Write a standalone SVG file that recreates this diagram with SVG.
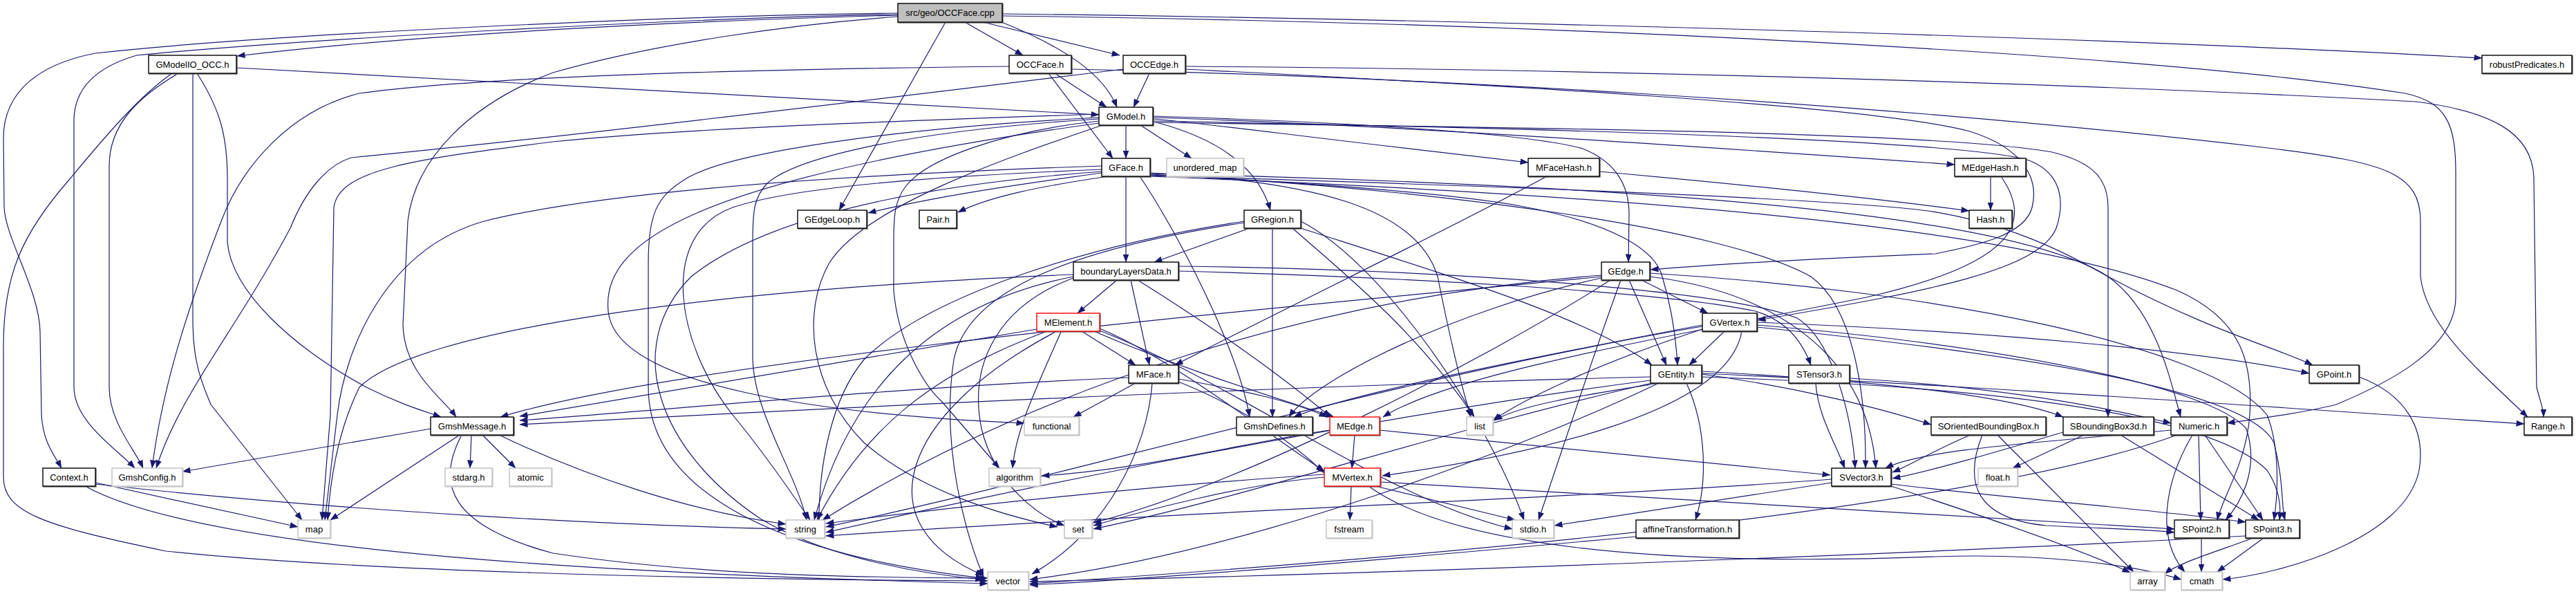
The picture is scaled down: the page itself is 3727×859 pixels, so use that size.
<svg xmlns="http://www.w3.org/2000/svg" width="3727" height="859" viewBox="0 0 3727 859">
<defs>
<marker id="a" viewBox="0 0 12 9" markerWidth="12" markerHeight="9" refX="11.5" refY="4.5" orient="auto" markerUnits="userSpaceOnUse"><path d="M0,0 L12,4.5 L0,9 z" fill="#191970"/></marker>
</defs>
<style>
.n rect{fill:#fff;stroke:#000;stroke-width:1.4;filter:drop-shadow(1.5px 1.5px 0 #666)}
.g rect{fill:#fff;stroke:#bfbfbf;stroke-width:1.4;filter:drop-shadow(1.5px 1.5px 0 #d0d0d0)}
.r rect{fill:#fff;stroke:#ff0000;stroke-width:1.4;filter:drop-shadow(1.5px 1.5px 0 #666)}
.root rect{fill:#bfbfbf;stroke:#000;stroke-width:1.4;filter:drop-shadow(1.5px 1.5px 0 #666)}
text{font-family:"Liberation Sans",Arial,sans-serif;font-size:13px;fill:#000;text-anchor:middle}
#edges path{fill:none;stroke:#191970;stroke-width:1.2;marker-end:url(#a)}
</style>
<rect width="3727" height="859" fill="#fff"/>
<g id="edges">
<path d="M1299,22 C1000,30 620,48 343,81"/>
<path d="M1396,32 L1480,80"/>
<path d="M1422,32 L1620,80"/>
<path d="M1449,32 C1545,70 1598,110 1616,155"/>
<path d="M1450,20 C2100,28 3000,52 3591,84"/>
<path d="M1450,23 C2200,32 3100,75 3480,135 C3540,148 3553,180 3553,250 L3553,430 C3553,510 3440,560 3380,585 C3320,600 3260,606 3222,612"/>
<path d="M1368,32 L1214,304"/>
<path d="M1299,19 C1000,22 400,48 138,77 C60,92 5,130 5,200 L6,300 C8,345 57,420 58,480 L60,600 C62,640 80,660 89,677"/>
<path d="M1299,21 C1000,25 420,58 198,80 C135,98 107,130 107,175 L107,560 C107,610 170,650 195,677"/>
<path d="M1299,24 C1150,35 950,62 800,105 C680,150 600,230 590,320 L583,470 C585,540 640,575 660,603"/>
<path d="M342,98 L1590,166"/>
<path d="M258,106 C200,140 158,180 158,240 L158,560 C158,610 195,650 207,677"/>
<path d="M285,106 C320,160 329,200 329,260 L329,350 C335,420 420,500 530,560 C580,585 615,595 638,603"/>
<path d="M279,106 L279,470 C280,530 295,560 305,585 L437,752"/>
<path d="M249,106 C200,140 150,200 100,260 C30,340 5,400 5,500 L5,690 C5,740 60,760 240,797 C500,825 1000,838 1429,840"/>
<path d="M1526,106 L1601,155"/>
<path d="M1517,106 L1610,229"/>
<path d="M1460,96 C1100,100 700,110 520,135 C420,160 350,240 320,320 C270,450 235,560 220,677"/>
<path d="M1550,100 C2000,110 2700,145 3290,215 C3450,235 3502,250 3502,320 L3502,400 C3510,470 3580,530 3657,603"/>
<path d="M1663,106 L1640,155"/>
<path d="M1625,100 C1300,140 800,200 508,228 C470,240 440,280 420,330 C340,480 260,570 226,677"/>
<path d="M1715,100 C2100,120 2700,150 2850,190 C2930,215 2950,260 2940,300 C2930,340 2860,355 2800,367 C2600,375 2450,385 2388,390"/>
<path d="M1715,96 C2300,100 3000,120 3495,147 C3600,160 3666,190 3666,260 L3670,560 C3675,580 3680,590 3680,603"/>
<path d="M1629,181 L1629,229"/>
<path d="M1650,181 L1724,229"/>
<path d="M1668,172 C1760,180 1860,195 2211,235"/>
<path d="M1668,170 C2000,180 2500,215 2828,238"/>
<path d="M1673,177 C1760,200 1820,240 1838,304"/>
<path d="M1668,168 C1900,175 2200,190 2290,215 C2340,235 2357,270 2357,310 L2356,379"/>
<path d="M1668,175 C2200,185 2800,200 2930,230 C2990,250 2985,300 2975,330 C2950,390 2800,420 2543,463"/>
<path d="M1668,177 C2200,185 2800,190 2969,220 C3030,235 3050,260 3050,300 L3050,603"/>
<path d="M1590,165 C1300,175 1000,185 800,205 C600,230 490,245 483,300 L478,600 L466,752"/>
<path d="M1590,170 C1300,185 1050,220 990,260 C950,285 938,310 938,380 L938,560 C938,700 1100,800 1423,836"/>
<path d="M1590,172 C1300,190 1150,230 1110,265 C1092,285 1089,300 1089,350 L1089,520 C1092,600 1150,680 1167,752"/>
<path d="M1590,175 C1450,190 1340,230 1310,270 C1295,290 1293,310 1293,350 L1293,420 C1300,500 1340,560 1362,580 L1446,677"/>
<path d="M1595,181 C1450,230 1250,300 1200,380 C1160,450 1170,560 1250,640 C1330,710 1450,745 1530,762"/>
<path d="M1590,178 C1000,260 870,350 880,450 C890,560 1200,600 1482,612"/>
<path d="M1594,250 C1450,270 1350,285 1256,308"/>
<path d="M1604,255 C1500,270 1430,285 1386,307"/>
<path d="M1629,255 L1629,379"/>
<path d="M1664,253 C1900,264 2100,280 2200,298 C2330,322 2395,360 2405,400 C2420,450 2425,490 2427,528"/>
<path d="M1664,254 C2200,270 2650,287 2790,305 C2900,322 2980,360 3050,400 C3200,480 3300,505 3346,528"/>
<path d="M1664,255 C2300,280 2900,322 3150,420 C3240,460 3260,520 3255,600 C3250,670 3215,720 3208,752"/>
<path d="M1664,252 C2100,274 2500,332 2620,400 C2690,450 2700,600 2699,677"/>
<path d="M1664,251 C2300,266 2900,302 3050,400 C3120,450 3140,550 3155,603"/>
<path d="M1649,255 C1700,330 1790,500 1808,603"/>
<path d="M1594,245 C1350,255 1150,270 1060,300 C950,340 980,500 1060,600 C1110,660 1150,720 1172,752"/>
<path d="M1594,248 C1300,270 1100,320 1000,400 C900,500 950,650 1100,750 C1200,810 1350,832 1423,838"/>
<path d="M1594,240 C1300,250 900,270 700,320 C560,360 500,500 488,600 L470,752"/>
<path d="M1664,250 C1900,262 2050,300 2080,400 C2100,500 2115,560 2128,603"/>
<path d="M1882,330 C2100,400 2300,460 2390,528"/>
<path d="M1808,330 L1670,379"/>
<path d="M1841,330 L1841,603"/>
<path d="M1870,330 C1950,400 2050,480 2133,603"/>
<path d="M1800,320 C1600,350 1350,420 1250,520 C1200,580 1185,680 1185,752"/>
<path d="M1800,322 C1550,360 1400,420 1380,520 C1360,650 1400,780 1423,834"/>
<path d="M1882,320 C2000,380 2150,600 2205,752"/>
<path d="M1616,405 L1559,453"/>
<path d="M1636,405 L1663,528"/>
<path d="M1646,405 C1750,470 1850,540 1925,603"/>
<path d="M1705,392 C2000,400 2400,420 2540,450 C2590,465 2610,500 2620,528"/>
<path d="M1705,385 C2100,390 2500,420 2600,460 C2650,490 2680,600 2684,677"/>
<path d="M1553,397 C1000,420 600,480 520,560 C490,620 478,690 474,752"/>
<path d="M1553,402 C1450,440 1400,520 1420,620 C1440,700 1500,745 1540,760"/>
<path d="M1553,400 C1350,440 1230,560 1178,752"/>
<path d="M1500,476 L752,602"/>
<path d="M1565,479 L1643,528"/>
<path d="M1583,479 C1700,530 1830,570 1930,603"/>
<path d="M1591,475 C1700,520 1850,640 1916,681"/>
<path d="M1515,479 C1350,540 1250,620 1182,752"/>
<path d="M1527,480 C1300,600 1250,760 1423,832"/>
<path d="M1535,480 C1500,560 1470,620 1465,677"/>
<path d="M1591,478 C1800,560 2000,720 2188,765"/>
<path d="M1633,546 C1300,560 1000,590 752,608"/>
<path d="M1643,554 L1553,603"/>
<path d="M1667,554 C1660,650 1600,770 1493,830"/>
<path d="M1705,548 C1800,565 1870,580 1920,603"/>
<path d="M1705,552 C1800,590 1870,640 1916,684"/>
<path d="M1960,629 L1956,677"/>
<path d="M1996,622 L2648,687"/>
<path d="M1924,622 C1800,640 1650,680 1507,688"/>
<path d="M1955,703 L1953,752"/>
<path d="M1990,703 L2192,752"/>
<path d="M1916,690 C1800,700 1650,740 1582,760"/>
<path d="M1997,697 C2400,720 2900,750 3146,765"/>
<path d="M1980,703 C2100,790 2400,820 2800,805 C2950,800 3080,815 3156,838"/>
<path d="M1916,686 C1700,700 1400,730 1195,757"/>
<path d="M2388,545 C1800,560 1200,590 752,614"/>
<path d="M2400,554 C2300,570 2200,585 2162,608"/>
<path d="M2388,550 C2000,600 1500,700 1195,770"/>
<path d="M2400,554 C2200,650 1800,800 1490,838"/>
<path d="M2390,554 C2100,620 1800,720 1582,765"/>
<path d="M2462,540 C2900,560 3300,590 3652,613"/>
<path d="M2462,545 C2900,560 3200,600 3280,680 C3300,710 3300,735 3298,752"/>
<path d="M2462,537 C2700,550 2900,570 2985,603"/>
<path d="M2462,541 C2600,560 2720,590 2794,614"/>
<path d="M2440,554 C2470,620 2470,700 2453,752"/>
<path d="M2495,479 L2444,528"/>
<path d="M2542,466 C2900,480 3200,510 3341,540"/>
<path d="M2542,470 C2900,500 3200,560 3250,620 C3270,680 3240,730 3220,752"/>
<path d="M2542,473 C2900,510 3250,560 3290,640 C3305,700 3300,730 3306,752"/>
<path d="M2463,470 C2200,520 1950,570 1872,603"/>
<path d="M2463,476 C2300,530 2200,580 2160,608"/>
<path d="M2463,472 C2000,550 1500,700 1195,762"/>
<path d="M2520,479 C2500,600 2200,660 2000,688"/>
<path d="M2375,405 L2471,453"/>
<path d="M2357,405 L2411,528"/>
<path d="M2317,400 C1800,450 1000,520 724,603"/>
<path d="M2317,402 C2100,450 1900,550 1865,603"/>
<path d="M2317,398 C1900,430 1500,560 1190,752"/>
<path d="M2330,405 C2150,520 1800,700 1582,756"/>
<path d="M2345,405 C2310,500 2260,650 2226,752"/>
<path d="M2387,400 C2550,420 2700,500 2714,677"/>
<path d="M2387,395 C2800,420 3200,500 3280,600 C3300,650 3295,720 3290,752"/>
<path d="M2851,629 C2800,650 2770,670 2738,683"/>
<path d="M2868,629 C2840,700 2860,750 2960,760 C3050,765 3100,765 3146,770"/>
<path d="M2890,629 L3087,827"/>
<path d="M3015,629 L2912,677"/>
<path d="M3068,629 L3268,752"/>
<path d="M2985,625 C2900,650 2800,680 2738,692"/>
<path d="M3181,629 L3184,752"/>
<path d="M3190,629 L3274,752"/>
<path d="M3172,629 C3130,700 3120,780 3161,827"/>
<path d="M3141,622 C2950,640 2780,650 2728,677"/>
<path d="M3150,629 C2900,720 2300,790 1490,844"/>
<path d="M2627,554 C2630,600 2655,640 2669,677"/>
<path d="M2676,547 C2900,560 3050,590 3141,612"/>
<path d="M2736,700 C2900,720 3100,735 3249,755"/>
<path d="M2650,698 L2249,760"/>
<path d="M2650,693 C2300,720 1700,740 1195,775"/>
<path d="M2736,703 C2850,740 3000,790 3082,828"/>
<path d="M3185,778 L3185,827"/>
<path d="M3275,778 L3208,827"/>
<path d="M3260,778 C3200,800 3150,815 3132,830"/>
<path d="M3249,775 C2800,800 2000,830 1490,841"/>
<path d="M3413,545 C3480,570 3510,620 3500,680 C3480,780 3300,830 3216,838"/>
<path d="M623,620 L264,682"/>
<path d="M665,629 L478,752"/>
<path d="M682,629 L680,677"/>
<path d="M698,629 L746,677"/>
<path d="M722,629 C850,690 1000,740 1137,758"/>
<path d="M668,629 C630,700 650,760 800,800 C1000,830 1200,835 1429,836"/>
<path d="M138,698 L431,762"/>
<path d="M138,700 C500,740 900,760 1137,765"/>
<path d="M123,703 C300,800 900,830 1429,844"/>
<path d="M2367,776 C2000,810 1700,835 1490,846"/>
<path d="M2880,255 L2880,304"/>
<path d="M2895,255 C2940,320 2920,380 2700,430 C2400,490 2100,540 2001,603"/>
<path d="M2238,255 C2100,330 1850,450 1700,528"/>
<path d="M2314,248 C2500,265 2700,285 2849,305"/>
</g>
<g id="n_root" class="root"><rect x="1299" y="5" width="151" height="27"/><text x="1374.5" y="23">src/geo/OCCFace.cpp</text></g>
<g id="n_GModelIO_OCC" class="n"><rect x="215" y="80" width="127" height="26"/><text x="278.5" y="98">GModelIO_OCC.h</text></g>
<g id="n_OCCFace" class="n"><rect x="1460" y="80" width="90" height="26"/><text x="1505" y="98">OCCFace.h</text></g>
<g id="n_OCCEdge" class="n"><rect x="1625" y="80" width="90" height="26"/><text x="1670" y="98">OCCEdge.h</text></g>
<g id="n_robustPredicates" class="n"><rect x="3591" y="80" width="130" height="26"/><text x="3656" y="98">robustPredicates.h</text></g>
<g id="n_GModel" class="n"><rect x="1590" y="155" width="78" height="26"/><text x="1629" y="173">GModel.h</text></g>
<g id="n_GFace" class="n"><rect x="1594" y="229" width="70" height="26"/><text x="1629" y="247">GFace.h</text></g>
<g id="n_unordered_map" class="g"><rect x="1688" y="229" width="111" height="26"/><text x="1743.5" y="247">unordered_map</text></g>
<g id="n_MFaceHash" class="n"><rect x="2211" y="229" width="103" height="26"/><text x="2262.5" y="247">MFaceHash.h</text></g>
<g id="n_MEdgeHash" class="n"><rect x="2828" y="229" width="103" height="26"/><text x="2879.5" y="247">MEdgeHash.h</text></g>
<g id="n_GEdgeLoop" class="n"><rect x="1154" y="304" width="100" height="26"/><text x="1204" y="322">GEdgeLoop.h</text></g>
<g id="n_Pair" class="n"><rect x="1330" y="304" width="54" height="26"/><text x="1357" y="322">Pair.h</text></g>
<g id="n_GRegion" class="n"><rect x="1800" y="304" width="82" height="26"/><text x="1841" y="322">GRegion.h</text></g>
<g id="n_Hash" class="n"><rect x="2849" y="304" width="62" height="26"/><text x="2880" y="322">Hash.h</text></g>
<g id="n_boundaryLayersData" class="n"><rect x="1553" y="379" width="152" height="26"/><text x="1629" y="397">boundaryLayersData.h</text></g>
<g id="n_GEdge" class="n"><rect x="2317" y="379" width="70" height="26"/><text x="2352" y="397">GEdge.h</text></g>
<g id="n_MElement" class="r"><rect x="1500" y="453" width="91" height="26"/><text x="1545.5" y="471">MElement.h</text></g>
<g id="n_GVertex" class="n"><rect x="2463" y="453" width="79" height="26"/><text x="2502.5" y="471">GVertex.h</text></g>
<g id="n_MFace" class="n"><rect x="1633" y="528" width="72" height="26"/><text x="1669" y="546">MFace.h</text></g>
<g id="n_GEntity" class="n"><rect x="2388" y="528" width="74" height="26"/><text x="2425" y="546">GEntity.h</text></g>
<g id="n_STensor3" class="n"><rect x="2588" y="528" width="88" height="26"/><text x="2632" y="546">STensor3.h</text></g>
<g id="n_GPoint" class="n"><rect x="3341" y="528" width="72" height="26"/><text x="3377" y="546">GPoint.h</text></g>
<g id="n_GmshMessage" class="n"><rect x="623" y="603" width="120" height="26"/><text x="683" y="621">GmshMessage.h</text></g>
<g id="n_functional" class="g"><rect x="1482" y="603" width="79" height="26"/><text x="1521.5" y="621">functional</text></g>
<g id="n_GmshDefines" class="n"><rect x="1789" y="603" width="110" height="26"/><text x="1844" y="621">GmshDefines.h</text></g>
<g id="n_MEdge" class="r"><rect x="1924" y="603" width="72" height="26"/><text x="1960" y="621">MEdge.h</text></g>
<g id="n_list" class="g"><rect x="2122" y="603" width="38" height="26"/><text x="2141" y="621">list</text></g>
<g id="n_SOrientedBoundingBox" class="n"><rect x="2794" y="603" width="166" height="26"/><text x="2877" y="621">SOrientedBoundingBox.h</text></g>
<g id="n_SBoundingBox3d" class="n"><rect x="2985" y="603" width="131" height="26"/><text x="3050.5" y="621">SBoundingBox3d.h</text></g>
<g id="n_Numeric" class="n"><rect x="3141" y="603" width="81" height="26"/><text x="3181.5" y="621">Numeric.h</text></g>
<g id="n_Range" class="n"><rect x="3652" y="603" width="69" height="26"/><text x="3686.5" y="621">Range.h</text></g>
<g id="n_Context" class="n"><rect x="62" y="677" width="76" height="26"/><text x="100" y="695">Context.h</text></g>
<g id="n_GmshConfig" class="g"><rect x="162" y="677" width="102" height="26"/><text x="213" y="695">GmshConfig.h</text></g>
<g id="n_stdarg" class="g"><rect x="644" y="677" width="68" height="26"/><text x="678" y="695">stdarg.h</text></g>
<g id="n_atomic" class="g"><rect x="737" y="677" width="61" height="26"/><text x="767.5" y="695">atomic</text></g>
<g id="n_algorithm" class="g"><rect x="1431" y="677" width="74" height="26"/><text x="1468" y="695">algorithm</text></g>
<g id="n_MVertex" class="r"><rect x="1916" y="677" width="81" height="26"/><text x="1956.5" y="695">MVertex.h</text></g>
<g id="n_SVector3" class="n"><rect x="2650" y="677" width="86" height="26"/><text x="2693" y="695">SVector3.h</text></g>
<g id="n_float" class="g"><rect x="2862" y="677" width="57" height="26"/><text x="2890.5" y="695">float.h</text></g>
<g id="n_map" class="g"><rect x="431" y="752" width="47" height="26"/><text x="454.5" y="770">map</text></g>
<g id="n_string" class="g"><rect x="1137" y="752" width="56" height="26"/><text x="1165" y="770">string</text></g>
<g id="n_set" class="g"><rect x="1540" y="752" width="40" height="26"/><text x="1560" y="770">set</text></g>
<g id="n_fstream" class="g"><rect x="1919" y="752" width="66" height="26"/><text x="1952" y="770">fstream</text></g>
<g id="n_stdio" class="g"><rect x="2188" y="752" width="60" height="26"/><text x="2218" y="770">stdio.h</text></g>
<g id="n_affineTransformation" class="n"><rect x="2367" y="752" width="149" height="26"/><text x="2441.5" y="770">affineTransformation.h</text></g>
<g id="n_SPoint2" class="n"><rect x="3146" y="752" width="79" height="26"/><text x="3185.5" y="770">SPoint2.h</text></g>
<g id="n_SPoint3" class="n"><rect x="3249" y="752" width="78" height="26"/><text x="3288" y="770">SPoint3.h</text></g>
<g id="n_vector" class="g"><rect x="1429" y="827" width="59" height="26"/><text x="1458.5" y="845">vector</text></g>
<g id="n_array" class="g"><rect x="3082" y="827" width="50" height="26"/><text x="3107" y="845">array</text></g>
<g id="n_cmath" class="g"><rect x="3156" y="827" width="59" height="26"/><text x="3185.5" y="845">cmath</text></g>
</svg>
